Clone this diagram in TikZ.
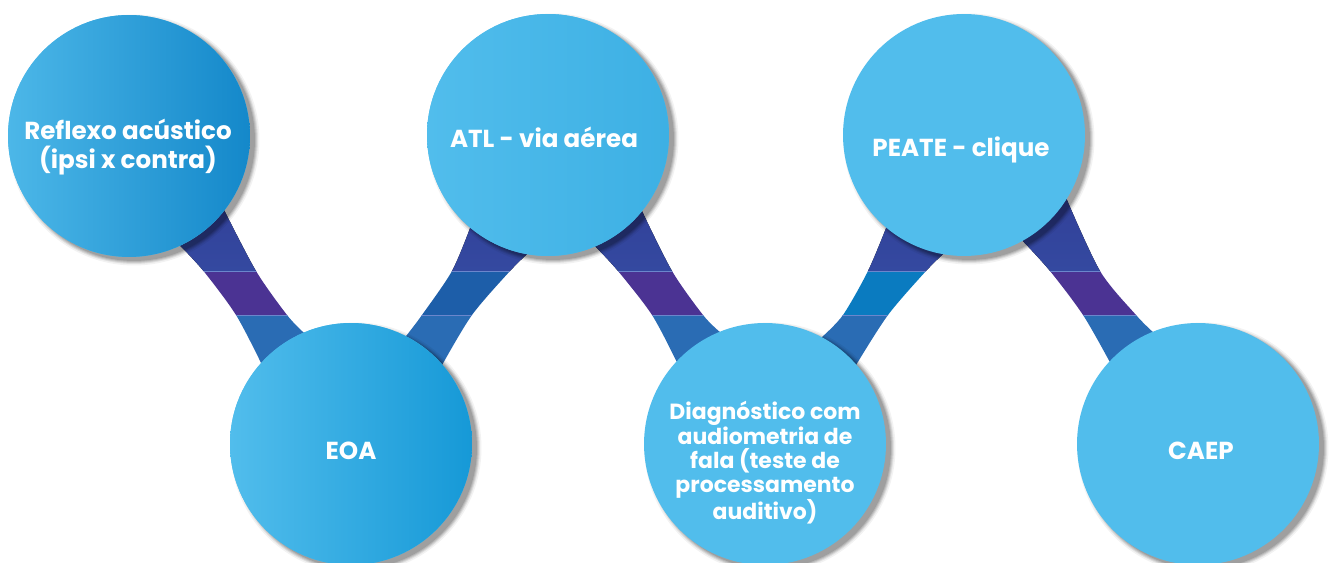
\documentclass[tikz,border=0pt]{standalone}
\usepackage{fontspec}
\setmainfont{Poppins}
\usetikzlibrary{calc}
\pgfdeclarelayer{bgwhite}
\pgfdeclarelayer{bands}
\pgfdeclarelayer{shadow}
\pgfsetlayers{bgwhite,bands,shadow,main}
\definecolor{cyanA}{HTML}{51BDEC}
\definecolor{topA}{HTML}{2F3590}
\definecolor{topB}{HTML}{3449A0}
\definecolor{midPurple}{HTML}{4B3393}
\definecolor{midBlueA}{HTML}{1D5EA9}
\definecolor{midBlueB}{HTML}{0A7BC0}
\definecolor{botBlue}{HTML}{2A6CB4}
\definecolor{sepCol}{HTML}{6B86CC}
\definecolor{gA}{HTML}{4CB7E8}
\definecolor{gB}{HTML}{20A3DC}
\definecolor{gC}{HTML}{1488CA}
\definecolor{eB}{HTML}{46B7E9}
\definecolor{eC}{HTML}{1699D7}
\definecolor{aC}{HTML}{3DB0E4}
\newcommand{\mkribbon}[2]{%
  \begin{scope}
    \clip #1;
    \fill[top color=topA,bottom color=topB] (0,100) rectangle (1329,271);
    \fill[#2] (0,271) rectangle (1329,315);
    \fill[botBlue] (0,315) rectangle (1329,563);
    \draw[sepCol,line width=0.5pt] (0,271) -- (1329,271) (0,315) -- (1329,315);
  \end{scope}}
\begin{document}
\begin{tikzpicture}[x=0.02cm,y=-0.02cm,
  circ/.style={circle,minimum size=4.84cm,inner sep=0pt,outer sep=0pt,fill=cyanA},
  bigtxt/.style={text=white,font=\fontsize{14}{16.5}\selectfont\bfseries,align=center,inner sep=0pt},
  smalltxt/.style={text=white,font=\fontsize{12.5}{13.7}\selectfont\bfseries,align=center,inner sep=0pt}]
\begin{pgfonlayer}{bgwhite}
\fill[white] (0,0) rectangle (1329,563);
\end{pgfonlayer}
\useasboundingbox (0,0) rectangle (1329,563);
% circles
\node[circ,left color=gA,middle color=gB,right color=gC] (c1) at (129,136) {};
\node[circ,left color=cyanA,middle color=eB,right color=eC] (c2) at (351,444) {};
\node[circ,left color=cyanA,middle color=cyanA,right color=aC] (c3) at (548,135) {};
\node[circ] (c4) at (765,444) {};
\node[circ] (c5) at (964,135) {};
\node[circ] (c6) at (1198,444) {};
% shadows
\begin{pgfonlayer}{shadow}
  \foreach \nm in {c1,c2,c3,c4,c5,c6}{
    \foreach \rr/\op in {2.51/0.05,2.48/0.07,2.46/0.09,2.44/0.10,2.42/0.12}{
      \fill[black,opacity=\op] ([shift={(5,4)}]\nm.center) circle[radius=\rr cm];
    }
  }
\end{pgfonlayer}
% ribbons
\begin{pgfonlayer}{bands}
  \mkribbon{(c1.center) -- plot[smooth] coordinates {(c1.-65) (203.5,271) (236,315) (c2.138)} -- (c2.center) -- plot[smooth] coordinates {(c2.113) (287,315) (256,271) (c1.-38)} -- cycle}{midPurple}
  \mkribbon{(c3.center) -- plot[smooth] coordinates {(c3.-130) (452,271) (422,315) (c2.63)} -- (c2.center) -- plot[smooth] coordinates {(c2.41) (472,315) (510,271) (c3.-100)} -- cycle}{midBlueA}
  \mkribbon{(c3.center) -- plot[smooth] coordinates {(c3.-67) (618,271) (652,315) (c4.137)} -- (c4.center) -- plot[smooth] coordinates {(c4.112) (703,315) (672,271) (c3.-39)} -- cycle}{midPurple}
  \mkribbon{(c5.center) -- plot[smooth] coordinates {(c5.-130) (868,271) (843,315) (c4.62)} -- (c4.center) -- plot[smooth] coordinates {(c4.41) (888,315) (926,271) (c5.-100)} -- cycle}{midBlueB}
  \mkribbon{(c5.center) -- plot[smooth] coordinates {(c5.-61) (1050,271) (1083,315) (c6.137)} -- (c6.center) -- plot[smooth] coordinates {(c6.112) (1136,315) (1100,271) (c5.-32)} -- cycle}{midPurple}
\end{pgfonlayer}
% texts
\node[bigtxt] (t1) at (128,147) {Reflexo acústico\\(ipsi x contra)};
\node[bigtxt,anchor=base] (t2) at (351,460) {EOA};
\node[bigtxt,anchor=base] (t3) at (544,148) {ATL - via aérea};
\node[smalltxt] (t4) at (765,463) {Diagnóstico com\\audiometria de\\fala (teste de\\processamento\\auditivo)};
\node[bigtxt,anchor=base] (t5) at (961,157) {PEATE - clique};
\node[bigtxt,anchor=base] (t6) at (1201,460) {CAEP};
\end{tikzpicture}
\end{document}
